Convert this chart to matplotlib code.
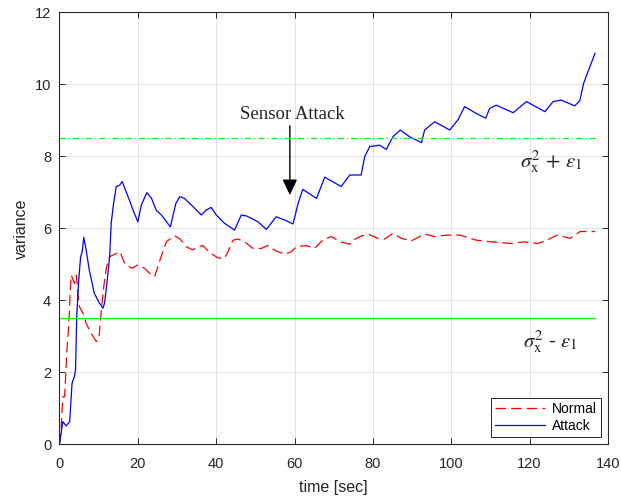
import matplotlib
matplotlib.use("Agg")
import matplotlib.pyplot as plt
from matplotlib.patches import FancyArrowPatch

# ---- data ----
t_normal = [0, 0.4, 0.85, 1.3, 1.9, 2.4, 2.7, 3.0, 3.8, 4.3, 4.7, 5.1, 6.0, 6.8, 8.1, 9.4, 10.1,
            10.7, 11.3, 12.0, 12.8, 14.5, 15.4, 16.6, 18.4, 20.0, 21.7, 23.0, 24.3, 25.5, 27.3,
            29.4, 30.8, 32.3, 34.0, 35.3, 36.6, 38.3, 40.4, 42.1, 43.0, 44.3, 45.6, 47.3, 49.4,
            51.5, 53.2, 55.3, 57.5, 59.2, 60.5, 63.0, 65.1, 66.8, 67.7, 69.4, 71.5, 74.1, 74.9,
            77.1, 79.2, 81.3, 83.0, 85.1, 87.3, 89.8, 93.2, 95.8, 98.8, 102.2, 106.4, 110.7,
            115.0, 118.4, 122.2, 124.4, 127.0, 130.4, 132.9, 136.7]
v_normal = [0, 0.4, 1.32, 1.32, 2.62, 3.36, 4.19, 4.7, 4.47, 4.7, 4.19, 3.82, 3.64, 3.36, 3.08,
            2.85, 2.99, 3.73, 4.38, 4.93, 5.21, 5.3, 5.35, 5.03, 4.89, 4.98, 4.89, 4.75, 4.66,
            5.07, 5.63, 5.79, 5.7, 5.49, 5.4, 5.49, 5.52, 5.33, 5.18, 5.16, 5.35, 5.67, 5.7,
            5.62, 5.44, 5.44, 5.52, 5.37, 5.28, 5.35, 5.49, 5.52, 5.44, 5.63, 5.7, 5.77, 5.63,
            5.56, 5.67, 5.79, 5.82, 5.72, 5.7, 5.86, 5.72, 5.65, 5.84, 5.77, 5.81, 5.81, 5.67,
            5.62, 5.58, 5.62, 5.58, 5.67, 5.81, 5.72, 5.91, 5.91]

t_attack = [0, 0.85, 1.7, 2.6, 3.2, 3.8, 4.1, 4.4, 4.9, 5.4, 5.8, 6.2, 6.8, 7.6, 8.9, 10.2, 11.1,
            11.5, 12.1, 12.8, 13.2, 13.8, 14.5, 15.4, 16.0, 17.5, 18.8, 20.0, 20.9, 22.3, 23.5,
            24.7, 26.0, 28.3, 29.7, 30.7, 31.9, 34.1, 36.2, 37.5, 38.7, 40.0, 42.1, 44.7, 46.4,
            47.8, 50.7, 52.8, 55.3, 57.5, 59.6, 60.9, 62.1, 65.6, 67.7, 71.9, 74.1, 77.0, 77.9,
            79.2, 81.7, 83.4, 85.1, 87.0, 89.4, 92.4, 93.2, 95.8, 99.6, 101.7, 103.4, 106.4,
            108.8, 109.8, 111.5, 115.8, 119.2, 123.9, 126.0, 128.1, 131.5, 132.8, 133.8, 134.9,
            136.7]
v_attack = [0, 0.63, 0.51, 0.63, 1.69, 1.88, 2.07, 3.55, 4.56, 5.21, 5.35, 5.75, 5.4, 4.84, 4.19,
            3.92, 3.78, 3.92, 4.47, 5.21, 6.14, 6.69, 7.16, 7.2, 7.3, 6.88, 6.5, 6.18, 6.65, 6.99,
            6.83, 6.5, 6.37, 6.04, 6.69, 6.88, 6.83, 6.6, 6.37, 6.51, 6.58, 6.37, 6.14, 5.95, 6.37,
            6.34, 6.18, 5.97, 6.32, 6.23, 6.12, 6.69, 7.08, 6.83, 7.42, 7.16, 7.48, 7.48, 7.99,
            8.27, 8.31, 8.19, 8.54, 8.73, 8.54, 8.38, 8.73, 8.96, 8.73, 9.01, 9.38, 9.19, 9.06,
            9.33, 9.42, 9.21, 9.52, 9.24, 9.52, 9.56, 9.4, 9.54, 10.03, 10.35, 10.86]

upper_bound = 8.5
lower_bound = 3.5
t_end = 136.7
series_labels = ["Normal", "Attack"]
x_ticks = [0, 20, 40, 60, 80, 100, 120, 140]
y_ticks = [0, 2, 4, 6, 8, 10, 12]
attack_time = 58.8
attack_text_y = 9.15
attack_tip_y = 6.92

# ---- figure ----
plt.rcParams['font.family'] = ['Liberation Sans', 'DejaVu Sans']
plt.rcParams['mathtext.fontset'] = 'stix'

fig = plt.figure(figsize=(6.21, 5.04), dpi=100)
ax = fig.add_axes([0.0958, 0.1185, 0.8832, 0.8571])

ax.plot(t_normal, v_normal, color='red', lw=0.9, linestyle=(0, (8.5, 4.0)), label=series_labels[0])
ax.plot(t_attack, v_attack, color='blue', lw=0.9, label=series_labels[1])
ax.plot([0, t_end], [upper_bound, upper_bound], color='#00ff00', lw=0.9,
        linestyle=(0, (5, 2.3, 1, 2.3)))
ax.plot([0, t_end], [lower_bound, lower_bound], color='#00ff00', lw=0.9)

ax.text(125.5, 7.85, r'$\sigma_{\mathrm{x}}^{2}\,+\,\varepsilon_{1}$', fontsize=15, ha='center',
        va='center', color='#222222')
ax.text(125.3, 2.85, r'$\sigma_{\mathrm{x}}^{2}$ - $\varepsilon_{1}$', fontsize=15, ha='center',
        va='center', color='#222222', family='STIXGeneral')

ax.text(attack_time + 0.7, attack_text_y, 'Sensor Attack', family='Liberation Serif', fontsize=13.5,
        ha='center', va='center', color='#222222')
arrow = FancyArrowPatch((attack_time, attack_text_y - 0.3), (attack_time, attack_tip_y),
                        arrowstyle='-|>,head_length=6,head_width=2.8', color='black', lw=1.0,
                        shrinkA=0, shrinkB=0, mutation_scale=1.6)
ax.add_patch(arrow)

ax.set_xlim(0, 140)
ax.set_ylim(0, 12)
ax.set_xticks(x_ticks)
ax.set_yticks(y_ticks)
ax.grid(True, color='#e3e3e3', lw=0.7)
ax.set_axisbelow(True)
ax.tick_params(direction='in', top=True, right=True, length=4.5, width=0.7,
               labelsize=10.5, colors='#262626')
ax.tick_params(axis='x', pad=9)
ax.tick_params(axis='y', pad=6)
for s in ax.spines.values():
    s.set_color('#262626')
    s.set_linewidth(0.8)

ax.set_xlabel('time [sec]', fontsize=11.5, color='#262626', labelpad=7)
ax.set_ylabel('variance', fontsize=11.5, color='#262626', labelpad=4)

leg = ax.legend(loc='lower right', fontsize=10, handlelength=3.6, fancybox=False,
                edgecolor='#262626', framealpha=1, borderaxespad=0.5, borderpad=0.3,
                labelspacing=0.25, handletextpad=0.5)
leg.get_frame().set_linewidth(0.7)

fig.savefig('out.png', dpi=100)
